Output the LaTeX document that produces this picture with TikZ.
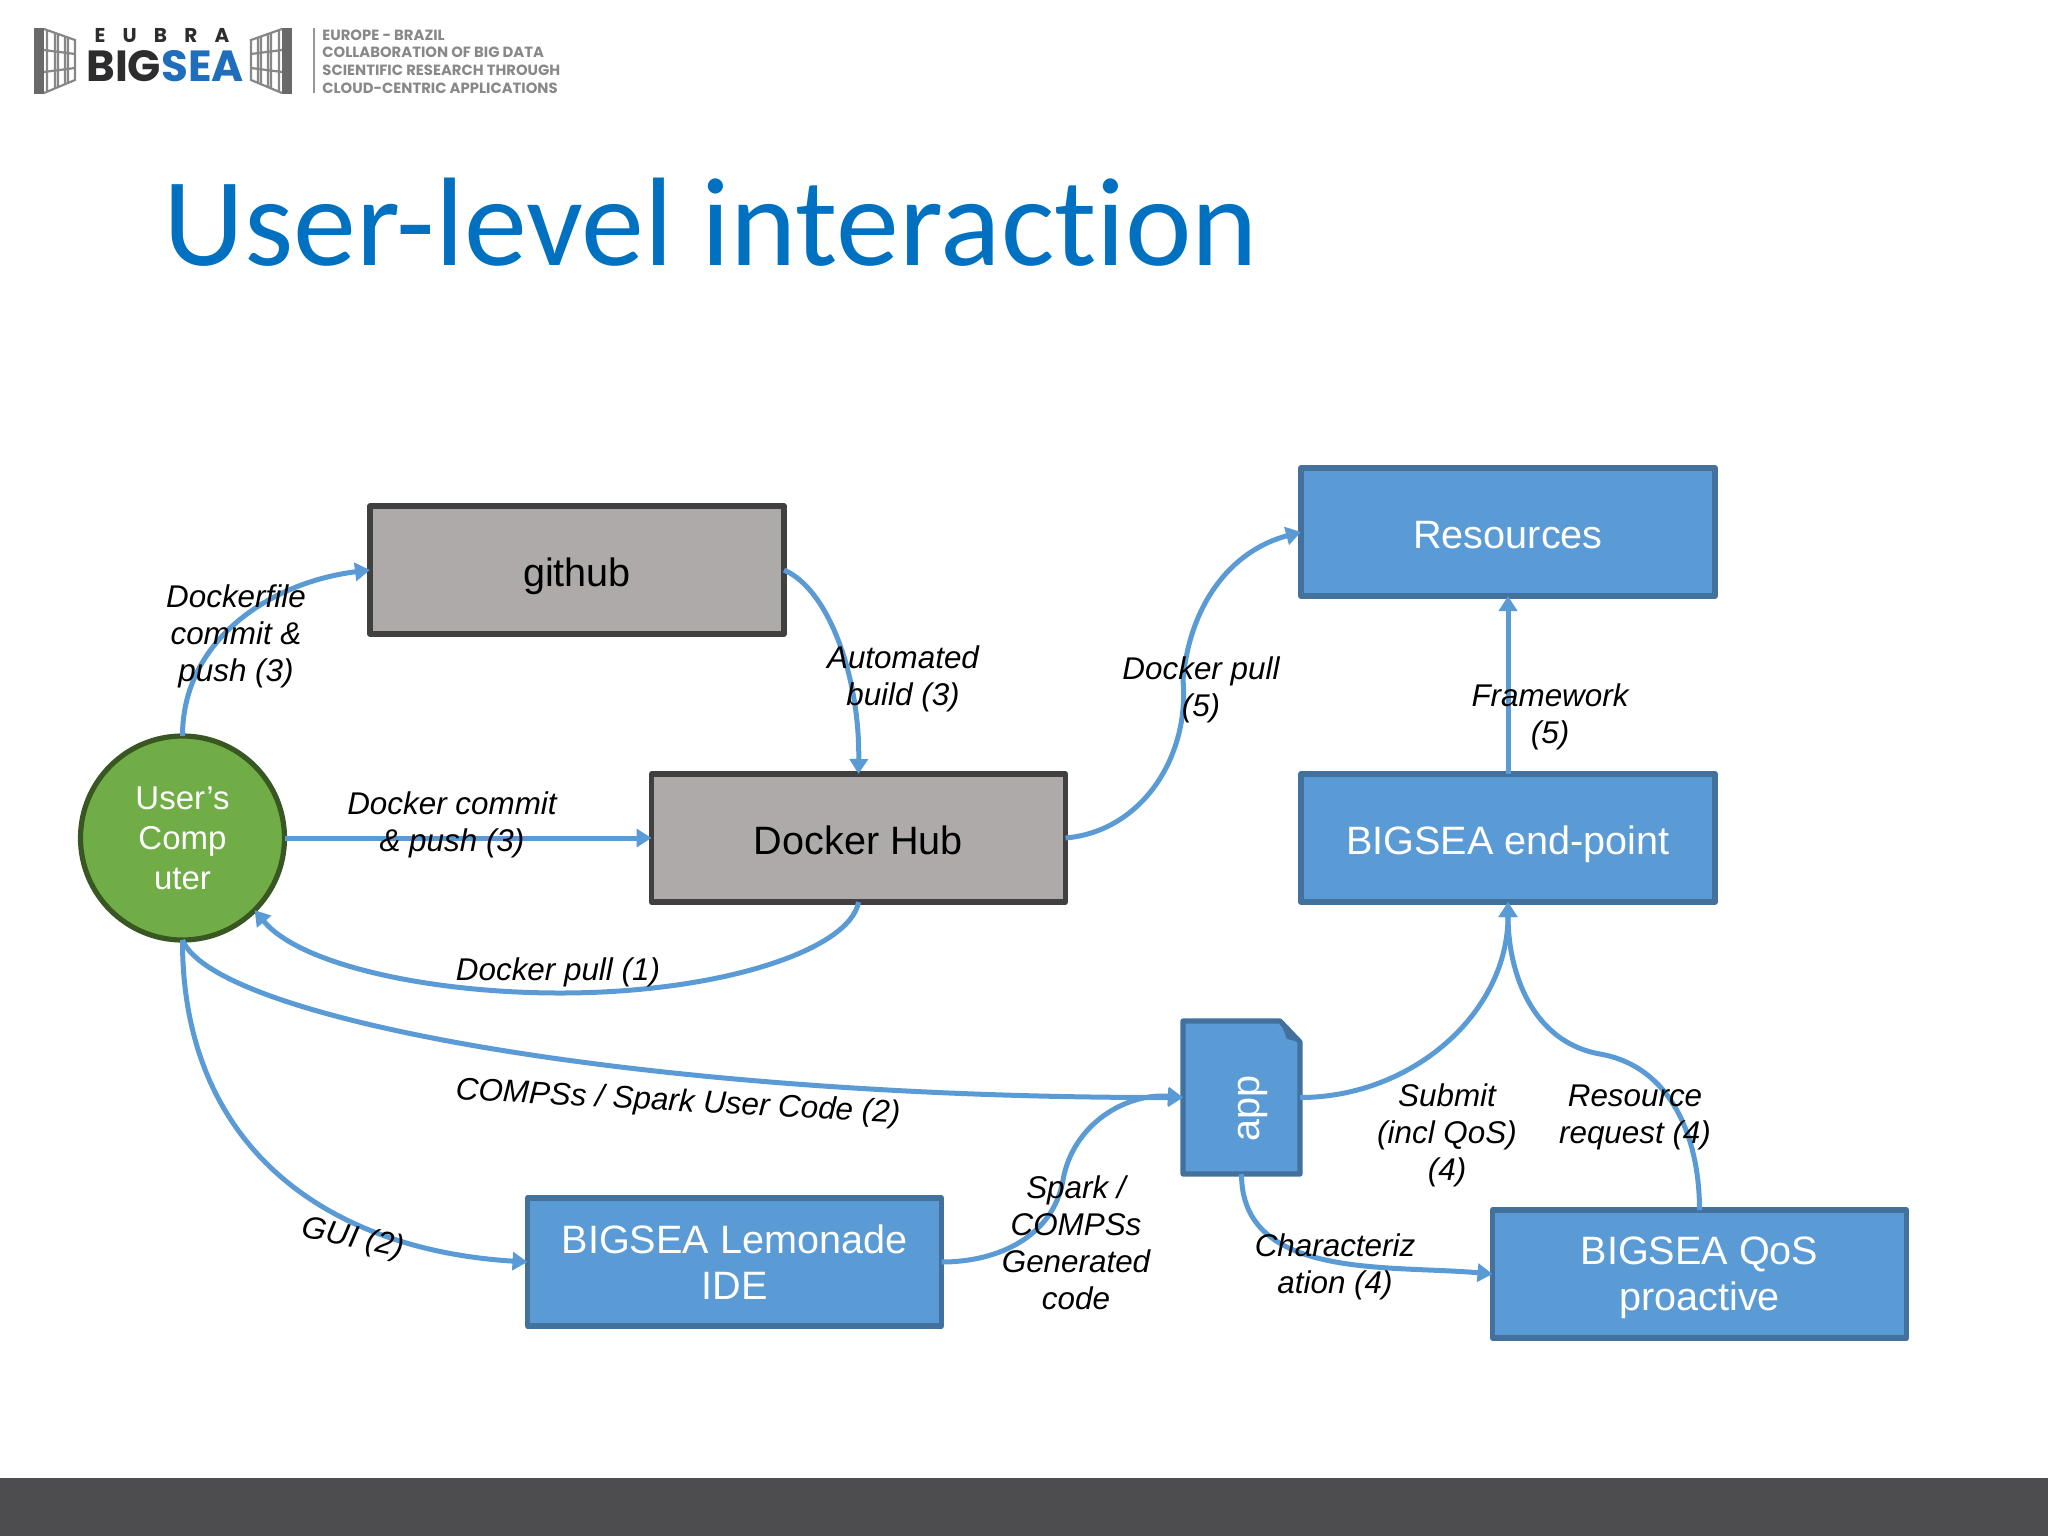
\documentclass[tikz,border=0pt]{standalone}
\usepackage{fontspec}
\setmainfont{Liberation Sans}
\newfontfamily\titlefont[Ligatures=NoCommon]{Carlito}
\newfontfamily\logofont{Poppins}
\usetikzlibrary{arrows.meta}

\definecolor{bluecolor}{RGB}{91,155,213}
\definecolor{blueline}{RGB}{65,113,156}
\definecolor{graycolor}{RGB}{174,170,170}
\definecolor{grayline}{RGB}{64,64,64}
\definecolor{greencolor}{RGB}{112,173,71}
\definecolor{greenline}{RGB}{56,87,35}
\definecolor{titlecolor}{RGB}{0,112,192}
\definecolor{barcolor}{RGB}{77,77,79}
\definecolor{seacolor}{RGB}{31,110,188}
\definecolor{bigcolor}{RGB}{45,45,48}
\definecolor{panelcolor}{RGB}{105,105,105}
\definecolor{tagcolor}{RGB}{136,136,136}

\begin{document}
\begin{tikzpicture}[x=0.5pt, y=-0.5pt, node distance={153pt},
	main/.style = {draw, line width=2.6pt, line join=round, minimum width=207pt, minimum height=64pt, inner sep=0pt, outer sep=0pt, align=center, font=\fontsize{19.8}{23}\selectfont},
	bluebox/.style = {main, draw=blueline, fill=bluecolor, text=white},
	graybox/.style = {main, draw=grayline, fill=graycolor, text=black},
	oneline/.style = {text height=16pt, text depth=0pt},
	flow/.style = {line width=2.5pt, draw=bluecolor, -{Triangle[length=7.5pt, width=9pt]}},
	lbl/.style = {align=center, font=\fontsize{15.7}{18.5}\selectfont\itshape, inner sep=0pt},
	tagline/.style = {inner sep=0pt, anchor=west, text=tagcolor, font=\logofont\bfseries\fontsize{7.4}{9}\selectfont}]
	\useasboundingbox (0,0) rectangle (2048,1536);
	\fill[barcolor] (0,1478) rectangle (2048,1536);

	% logo
	\foreach \mirror/\shift in {1/0, -1/163}{
		\begin{scope}[xshift=\shift pt, xscale=\mirror]
			\fill[panelcolor] (34,28) rectangle (44,94);
			\draw[panelcolor!80, line width=1.1pt] (44,29) -- (75,40) -- (75,80) -- (44,93)
				(44,50) -- (75,54) (44,72) -- (75,68)
				(47,30) -- (47,92) (55,33) -- (55,88) (58,34) -- (58,87) (65,36) -- (65,84) (68,37) -- (68,83);
		\end{scope}
	}
	\node[inner sep=0pt, anchor=base, text=bigcolor] (eubra) at (162,43) {\logofont\bfseries\fontsize{10}{12}\selectfont E\hspace{8.6pt}U\hspace{8.6pt}B\hspace{8.6pt}R\hspace{8.6pt}A};
	\node[inner sep=0pt, anchor=base west, text=bigcolor] (bigsea) at (86,82) {\logofont\fontsize{21.8}{24}\selectfont\bfseries BIG\textcolor{seacolor}{SEA}};
	\draw[panelcolor!70, line width=1.4pt] (314,28) -- (314,93);
	\node[tagline] (tag1) at (322,35) {EUROPE - BRAZIL};
	\node[tagline] (tag2) at (322,52) {COLLABORATION OF BIG DATA};
	\node[tagline] (tag3) at (322,70) {SCIENTIFIC RESEARCH THROUGH};
	\node[tagline] (tag4) at (322,88) {CLOUD-CENTRIC APPLICATIONS};

	\node[inner sep=0pt, anchor=base west, text=titlecolor] (title) at (163,265) {\titlefont\fontsize{63}{68}\selectfont User-level interaction};

	\node[draw=greenline, fill=greencolor, line width=2.6pt, circle, minimum size=102pt, inner sep=0pt, outer sep=0pt, align=center, text=white, font=\fontsize{16.5}{20}\selectfont] (User) at (182.5,838) {User’s\\Comp\\uter};
	\node[graybox, oneline] (Github) at (577,570) {github};
	\node[graybox, oneline] (Hub) [right of=User, node distance=338pt] {Docker Hub};
	\node[bluebox, oneline] (Endpoint) [right of=Hub, node distance=324.75pt] {BIGSEA end-point};
	\node[bluebox, oneline] (Resources) [above of=Endpoint] {Resources};
	\node[bluebox] (Lemonade) at (734.5,1262) {BIGSEA Lemonade\\IDE};
	\node[bluebox, text depth=0pt] (Qos) at (1699.5,1274) {BIGSEA QoS\\proactive};

	\draw[blueline, fill=bluecolor, line width=2.6pt, line join=round] (1183,1021) -- (1280,1021) -- (1300,1042) -- (1300,1174) -- (1183,1174) -- cycle;
	\fill[blueline] (1280,1021) -- (1300,1042) -- (1287,1039) -- cycle;
	\node[minimum width=58.5pt, minimum height=76.5pt, inner sep=0pt, outer sep=0pt] (App) at (1241.5,1097.5) {};
	\node[rotate=90, text=white, inner sep=0pt, font=\fontsize{19.8}{22}\selectfont] (apptext) at (1253,1108) {app};

	\coordinate (PullLow) at (560,993);
	\coordinate (QosBend) at (1600,1054);
	\coordinate (SparkBend) at (1063,1180);
	\coordinate (PullBend) at (1183,680);

	\draw[flow] (User.north) to[out=90, in=187] (Github.west);
	\draw[flow] (Github.east) .. controls (830,590) and (860,680) .. (Hub.north);
	\draw[flow] (User.east) -- (Hub.west);
	\draw[flow] (Hub.south) .. controls (850,950) and (720,993) .. (PullLow) .. controls (430,993) and (300,965) .. (User.-45);
	\draw[flow] (User.south) .. controls (215,1020) and (650,1098) .. (App.west);
	\draw[flow] (User.south) .. controls (182,1150) and (330,1250) .. (Lemonade.west);
	\draw[flow] (Lemonade.east) to[out=0, in=-100] (SparkBend) to[out=80, in=175] (App.west);
	\draw[flow] (Hub.east) to[out=5, in=-85] (PullBend) to[out=85, in=195] (Resources.west);
	\draw[flow] (Endpoint.north) -- (Resources.south);
	\draw[flow] (App.east) to[out=0, in=-90] (Endpoint.south);
	\draw[flow] (App.south) to[out=-90, in=175] (Qos.west);
	\draw[flow] (Qos.north) to[out=90, in=-10] (QosBend) to[out=170, in=-90] (Endpoint.south);

	\node[lbl] (l1) at (236,636) {Dockerfile\\commit \&\\push (3)};
	\node[lbl] (l2) at (903,679) {Automated\\build (3)};
	\node[lbl] (l3) at (1201,690) {Docker pull\\(5)};
	\node[lbl] (l4) at (1550,717) {Framework\\(5)};
	\node[lbl] (l5) at (452,825) {Docker commit\\\& push (3)};
	\node[lbl] (l6) at (558,972) {Docker pull (1)};
	\node[lbl, rotate=-3] (l7) at (678,1103) {COMPSs / Spark User Code (2)};
	\node[lbl, rotate=-12] (l8) at (353,1239) {GUI (2)};
	\node[lbl] (l9) at (1076,1243) {Spark /\\COMPSs\\Generated\\code};
	\node[lbl] (l10) at (1447,1135) {Submit\\(incl QoS)\\(4)};
	\node[lbl] (l11) at (1635,1117) {Resource\\request (4)};
	\node[lbl] (l12) at (1335,1267) {Characteriz\\ation (4)};
\end{tikzpicture}
\end{document}
